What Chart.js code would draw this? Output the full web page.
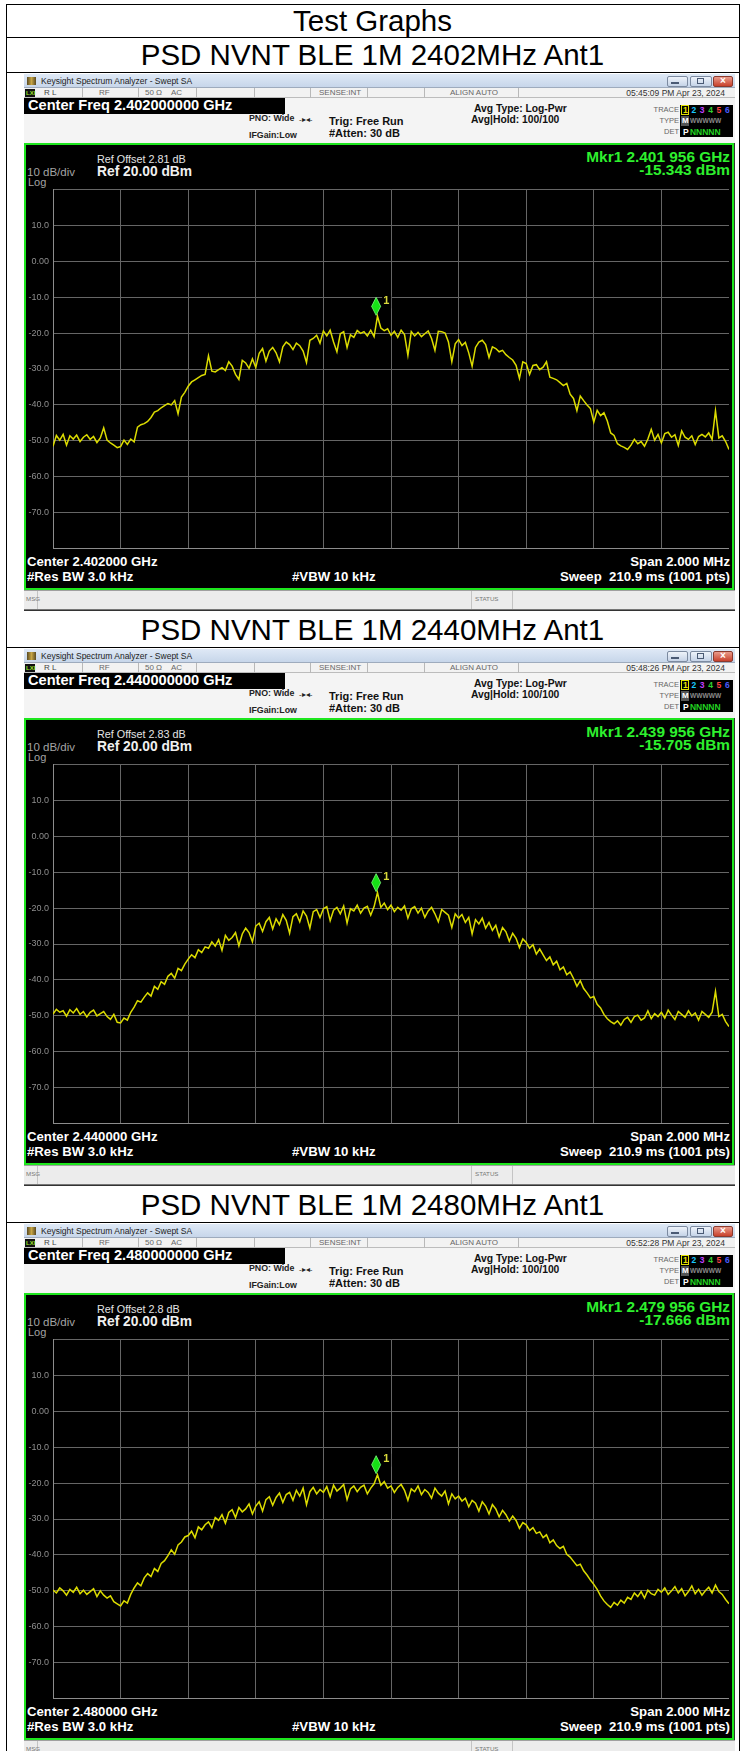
<!DOCTYPE html>
<html>
<head>
<meta charset="utf-8">
<script src="https://cdn.jsdelivr.net/npm/chart.js@4.4.1/dist/chart.umd.min.js"></script>
<style>
  body { margin: 0; width: 743px; height: 1751px; overflow: hidden; position: relative; background: #fff;
         font-family: "Liberation Sans", Arial, sans-serif; }
  canvas { position: absolute; }
</style>
</head>
<body>
<script>
// ---- data ----
const pageTitle = "Test Graphs";
const panelTitles = ["PSD NVNT BLE 1M 2402MHz Ant1", "PSD NVNT BLE 1M 2440MHz Ant1", "PSD NVNT BLE 1M 2480MHz Ant1"];
const centerFreqLabels = ["2.402000000 GHz", "2.440000000 GHz", "2.480000000 GHz"];
const centerLabels = ["2.402000 GHz", "2.440000 GHz", "2.480000 GHz"];
const timeStamps = ["05:45:09 PM Apr 23, 2024", "05:48:26 PM Apr 23, 2024", "05:52:28 PM Apr 23, 2024"];
const refOffsets = ["2.81 dB", "2.83 dB", "2.8 dB"];
const markerFreqLabels = ["2.401 956 GHz", "2.439 956 GHz", "2.479 956 GHz"];
const markerLevels = [-15.343, -15.705, -17.666];
const markerOffsetsKHz = [-44, -44, -44];

// x: offset from centre in kHz, 201 points over the 2 MHz span (every 10 kHz)
const spanStartKHz = -1000;
const pointStepKHz = 10;
const yTickValues = [10, 0, -10, -20, -30, -40, -50, -60, -70];
const yTickLabels = ["10.0", "0.00", "-10.0", "-20.0", "-30.0", "-40.0", "-50.0", "-60.0", "-70.0"];

const trace2402 = [
  -51.5, -48.5, -49.8, -48.2, -51.2, -48.6, -49.5, -48.4, -50.2, -49.0, -48.3, -49.6, -48.8, -50.5, -49.2, -46.4, -49.8, -50.6, -51.2, -51.9,
  -51.6, -49.8, -51.0, -49.5, -50.3, -46.2, -45.5, -45.2, -44.6, -43.5, -42.0, -41.6, -40.8, -40.2, -39.6, -40.0, -38.8, -42.5, -37.8, -36.5,
  -34.8, -33.6, -33.0, -32.4, -31.8, -31.5, -26.3, -30.6, -30.8, -30.2, -29.6, -30.4, -28.0, -29.2, -31.5, -32.9, -27.6, -28.3, -29.8, -27.2,
  -29.6, -25.6, -24.3, -27.8, -25.0, -24.0, -25.5, -28.0, -23.8, -22.5, -23.2, -24.6, -22.8, -23.5, -25.0, -28.2, -22.0, -21.5, -20.6, -22.8,
  -19.4, -20.8, -19.2, -22.5, -25.2, -20.2, -19.6, -24.0, -20.5, -21.2, -19.3, -20.1, -19.6, -20.8, -19.2, -21.0, -15.3, -18.6, -19.3, -18.8,
  -20.6, -19.5, -21.2, -19.2, -20.4, -26.2, -19.6, -20.8, -19.8, -21.0, -20.2, -19.4, -21.5, -24.8, -19.5, -19.6, -20.0, -22.5, -28.0, -23.0,
  -21.8, -23.5, -22.6, -25.5, -29.2, -24.0, -22.5, -22.0, -23.2, -26.8, -23.8, -24.3, -25.2, -24.8, -26.0, -26.8, -27.5, -29.0, -32.6, -28.0,
  -28.5, -31.5, -29.0, -28.8, -30.2, -29.5, -28.0, -32.3, -32.6, -33.0, -33.8, -34.6, -34.0, -37.0, -38.2, -41.6, -37.5, -38.8, -40.0, -41.0,
  -44.8, -41.5, -43.0, -42.2, -44.5, -47.8, -48.5, -50.8, -51.4, -51.8, -52.4, -51.2, -49.6, -50.8, -50.2, -51.5, -49.5, -46.8, -49.8, -48.2,
  -50.6, -48.0, -47.6, -49.0, -48.3, -51.3, -47.2, -49.0, -49.6, -48.6, -51.0, -48.8, -48.2, -48.9, -47.8, -49.6, -41.6, -49.2, -48.6, -50.2, -52.4
];
const trace2440 = [
  -49.5, -48.2, -49.0, -48.6, -50.1, -48.3, -49.2, -48.0, -49.6, -48.8, -50.3, -49.0, -48.4, -50.0, -49.4, -48.8, -50.2, -51.0, -49.6, -51.8,
  -52.0, -50.6, -51.2, -49.0, -47.6, -45.8, -46.2, -44.8, -43.6, -44.5, -41.8, -42.6, -40.5, -41.2, -39.0, -38.2, -39.5, -36.8, -37.4, -35.6,
  -34.2, -33.0, -33.8, -31.6, -32.4, -30.8, -31.2, -29.4, -30.6, -28.8, -31.8, -27.6, -29.0, -28.2, -26.8, -30.5, -27.2, -25.6, -26.8, -29.4,
  -25.0, -24.2, -26.5, -23.8, -22.6, -25.8, -23.0, -24.6, -21.8, -23.4, -27.0, -22.4, -21.6, -23.8, -20.8, -22.2, -25.6, -21.0, -20.4, -22.6,
  -20.2, -19.6, -23.5, -20.6, -19.8, -21.6, -19.4, -24.2, -20.2, -20.8, -19.2, -21.4, -20.0, -19.5, -22.0, -19.6, -15.7, -19.8, -18.6, -20.4,
  -19.2, -21.0, -19.8, -20.6, -19.4, -22.8, -20.2, -19.6, -21.4, -20.0, -22.6, -20.8, -19.8, -21.6, -23.8, -20.4, -21.2, -22.0, -25.4, -21.6,
  -22.8, -21.8, -24.0, -22.6, -27.2, -23.2, -24.4, -22.8, -25.6, -24.0, -26.2, -24.8, -28.0, -25.4, -26.6, -29.2, -27.0, -28.4, -31.0, -28.6,
  -29.6, -31.2, -30.2, -32.8, -31.4, -33.0, -34.6, -33.6, -35.8, -34.8, -37.2, -36.4, -38.6, -37.8, -39.6, -41.8, -40.2, -42.4, -43.6, -45.0,
  -44.6, -46.8, -47.8, -49.6, -50.8, -51.6, -52.2, -51.4, -52.6, -51.0, -50.4, -51.8, -50.2, -49.8, -51.2, -50.6, -48.6, -50.8, -49.4, -50.2,
  -49.0, -50.6, -48.4, -49.8, -51.0, -48.8, -49.6, -50.4, -48.6, -50.0, -49.2, -51.2, -48.8, -49.6, -50.4, -49.0, -43.2, -50.2, -49.6, -51.6, -53.0
];
const trace2480 = [
  -49.8, -50.6, -49.2, -50.0, -51.2, -49.6, -50.4, -49.0, -50.8, -49.8, -51.0, -50.2, -49.4, -51.6, -50.0, -51.2, -52.0, -51.4, -53.0, -53.6,
  -54.2, -52.8, -53.4, -51.0, -49.2, -47.8, -48.6, -46.4, -45.2, -46.0, -43.8, -44.6, -42.4, -41.6, -40.2, -38.6, -39.8, -37.2, -36.4, -35.0,
  -34.6, -33.4, -35.2, -32.2, -33.0, -31.6, -30.8, -32.4, -29.6, -30.4, -28.8, -31.2, -28.2, -27.4, -29.6, -26.8, -28.0, -27.2, -25.8, -28.6,
  -26.4, -25.2, -27.8, -24.6, -23.8, -26.2, -24.0, -22.8, -25.4, -23.2, -22.6, -24.8, -22.0, -23.6, -21.4, -26.0, -22.4, -21.2, -23.0, -21.8,
  -22.6, -21.0, -23.8, -20.6, -22.2, -21.4, -20.4, -24.6, -21.6, -20.8, -22.4, -21.2, -20.6, -23.0, -21.4, -20.2, -17.7, -20.6, -19.6, -21.4,
  -20.8, -22.6, -21.2, -20.4, -22.0, -24.8, -21.6, -22.4, -20.8, -23.2, -21.8, -22.6, -24.2, -21.4, -22.8, -23.6, -22.2, -25.8, -23.0, -24.4,
  -23.6, -25.0, -24.2, -26.6, -24.8, -25.6, -27.8, -25.2, -26.4, -28.6, -26.0, -27.2, -29.4, -27.6, -28.8, -30.6, -29.2, -30.4, -32.6, -31.0,
  -31.6, -33.2, -32.4, -34.0, -33.6, -35.2, -34.4, -36.6, -35.8, -37.4, -38.2, -37.6, -39.8, -40.6, -41.8, -43.0, -42.6, -44.4, -45.6, -47.0,
  -48.2, -49.6, -51.4, -52.8, -53.8, -54.6, -53.2, -54.0, -52.6, -53.4, -51.8, -52.4, -50.6, -51.6, -50.2, -52.0, -49.8, -50.8, -51.2, -49.6,
  -50.4, -49.2, -51.0, -50.0, -48.8, -50.6, -49.4, -51.4, -50.2, -48.6, -50.8, -49.6, -51.2, -50.0, -49.0, -50.6, -48.4, -50.2, -51.0, -52.4, -53.6
];
const traces = [trace2402, trace2440, trace2480];

// ---- little helpers for the screenshot chrome ----
function box(x, y, w, h, css) {
  const d = document.createElement("div");
  d.style.cssText = `position:absolute;left:${x}px;top:${y}px;width:${w}px;height:${h}px;box-sizing:border-box;` + (css || "");
  document.body.appendChild(d);
  return d;
}
function text(str, x, cy, size, css, align) {
  const d = document.createElement("div");
  d.textContent = str;
  let pos = `left:${x}px;`;
  if (align === "right") pos = `right:${743 - x}px;`;
  if (align === "center") pos = `left:${x - 300}px;width:600px;text-align:center;`;
  d.style.cssText = `position:absolute;${pos}top:${cy - size}px;height:${size * 2}px;line-height:${size * 2}px;` +
    `font-size:${size}px;white-space:pre;` + (css || "");
  document.body.appendChild(d);
  return d;
}

// table lines
const tableLeft = 6, tableRight = 739;
box(tableLeft, 4, tableRight - tableLeft + 1, 1, "background:#000");
box(tableLeft, 4, 1, 1747, "background:#000");
box(tableRight, 4, 1, 1747, "background:#000");
text(pageTitle, 372.5, 20.5, 29.5, "color:#000", "center");
box(tableLeft, 37, tableRight - tableLeft + 1, 1, "background:#000");

const panelTops = [74, 649, 1224];

function markerPlugin(k) {
  return {
    id: "mkr" + k,
    afterDatasetsDraw(chart) {
      const ctx = chart.ctx;
      const px = chart.scales.x.getPixelForValue(markerOffsetsKHz[k]);
      const py = chart.scales.y.getPixelForValue(markerLevels[k]) - 1;
      ctx.save();
      ctx.fillStyle = "#000";
      ctx.fillRect(px + 6, py - 20, 9, 13);
      ctx.fillStyle = "#d8d83a";
      ctx.font = "bold 11px 'Liberation Sans'";
      ctx.textBaseline = "top";
      ctx.fillText("1", px + 7, py - 20);
      ctx.beginPath();
      ctx.moveTo(px, py - 18);
      ctx.lineTo(px + 4.5, py - 9);
      ctx.lineTo(px, py);
      ctx.lineTo(px - 4.5, py - 9);
      ctx.closePath();
      ctx.fillStyle = "#16e016";
      ctx.fill();
      ctx.strokeStyle = "#7dff7d";
      ctx.lineWidth = 0.8;
      ctx.stroke();
      ctx.restore();
    }
  };
}

function drawPanel(k) {
  const y0 = panelTops[k];
  // title row above screenshot
  text(panelTitles[k], 372.5, y0 - 20, 29.5, "color:#000", "center");
  box(tableLeft, y0 - 2, tableRight - tableLeft + 1, 1, "background:#000");

  // window
  box(24, y0, 711, 537, "background:#000;border:1px solid #333");
  box(24, y0, 711, 14, "background:linear-gradient(#dfe9f6,#c7d6ea);border-bottom:1px solid #9eabbd");
  box(27, y0 + 3, 9, 8, "background:linear-gradient(90deg,#5a4a22,#c6a545,#5a4a22)");
  text("Keysight Spectrum Analyzer - Swept SA", 41, y0 + 7, 8.5, "color:#222");
  box(667, y0 + 2, 21, 11, "background:linear-gradient(#eef3fa,#c5d3e7);border:1px solid #7c8aa0;border-radius:2px");
  box(671, y0 + 8, 8, 2, "background:#4a5a74");
  box(690, y0 + 2, 22, 11, "background:linear-gradient(#eef3fa,#c5d3e7);border:1px solid #7c8aa0;border-radius:2px");
  box(697, y0 + 4, 7, 6, "border:1px solid #4a5a74");
  box(713, y0 + 2, 20, 11, "background:linear-gradient(#e99a8a,#c8412c);border:1px solid #8a3a2e;border-radius:2px");
  text("×", 723, y0 + 7, 10, "color:#fff;font-weight:bold", "center");

  // status row
  box(24, y0 + 14, 711, 10, "background:#f2f2f2;border-bottom:1px solid #bcbcbc");
  [82, 138, 196, 254, 310, 367, 424, 518].forEach(x => box(x, y0 + 14, 1, 10, "background:#b8b8b8"));
  box(25, y0 + 15, 10, 8, "background:#111");
  text("LXI", 26, y0 + 19, 6, "color:#9be12a;font-weight:bold");
  text("R L", 44, y0 + 19, 8, "color:#444");
  text("RF", 99, y0 + 19, 8, "color:#666");
  text("50 Ω    AC", 145, y0 + 19, 8, "color:#666");
  text("SENSE:INT", 319, y0 + 19, 8, "color:#666");
  text("ALIGN AUTO", 450, y0 + 19, 8, "color:#666");
  text(timeStamps[k], 725, y0 + 19, 8.5, "color:#333", "right");

  // settings area
  box(24, y0 + 24, 711, 45, "background:#f4f4f4");
  box(24, y0 + 24, 261, 16, "background:#000");
  text("Center Freq " + centerFreqLabels[k], 28, y0 + 31.5, 14.6, "color:#fff;font-weight:bold");
  text("PNO: Wide", 249, y0 + 44.5, 8.8, "color:#222;font-weight:bold");
  text("IFGain:Low", 249, y0 + 61.5, 8.8, "color:#222;font-weight:bold");
  text("-▸◂-", 299, y0 + 46, 8, "color:#222");
  text("Trig: Free Run", 329, y0 + 46.7, 11, "color:#111;font-weight:bold");
  text("#Atten: 30 dB", 329, y0 + 58.7, 11, "color:#111;font-weight:bold");
  text("Avg Type: Log-Pwr", 474, y0 + 35.3, 10.3, "color:#111;font-weight:bold");
  text("Avg|Hold: 100/100", 471, y0 + 46.7, 10.3, "color:#111;font-weight:bold");
  text("TRACE", 679, y0 + 35, 7.5, "color:#666", "right");
  text("TYPE", 679, y0 + 46.5, 7.5, "color:#666", "right");
  text("DET", 679, y0 + 57.5, 7.5, "color:#666", "right");
  box(680, y0 + 31, 53, 32, "background:#000");
  box(681, y0 + 31, 8, 10, "border:1px solid #e0e000");
  const digitColors = ["#e6e600", "#18c8ff", "#c040ff", "#30d030", "#ff4040", "#4a5cff"];
  digitColors.forEach((c, i) => text(String(i + 1), 683 + i * 8.4, y0 + 36, 8.5, `color:${c};font-weight:bold`));
  box(681, y0 + 42, 8, 10, "background:#555");
  text("M", 682, y0 + 47, 8, "color:#fff;font-weight:bold");
  text("WWWWW", 690, y0 + 47, 6.6, "color:#8a8a8a;font-weight:bold");
  text("P", 683, y0 + 58, 8.5, "color:#fff;font-weight:bold");
  text("N N N N N", 690, y0 + 58, 8.5, "color:#22d322;font-weight:bold;letter-spacing:-1.2px");

  // plot area
  box(24, y0 + 69, 710, 447, "background:#000;border:2px solid #1ee61e");
  text("Mkr1 " + markerFreqLabels[k], 730, y0 + 83, 15.4, "color:#2ef02e;font-weight:bold", "right");
  text(markerLevels[k].toFixed(3) + " dBm", 730, y0 + 96, 15.4, "color:#2ef02e;font-weight:bold", "right");
  text("Ref Offset " + refOffsets[k], 97, y0 + 85.3, 10.8, "color:#e4e4e4");
  text("Ref 20.00 dBm", 97, y0 + 97.7, 13.8, "color:#f0f0f0;font-weight:bold");
  text("10 dB/div", 27, y0 + 98, 11.5, "color:#a4a4a4");
  text("Log", 28, y0 + 107.5, 11, "color:#a4a4a4");
  text("Center " + centerLabels[k], 27, y0 + 488, 13.2, "color:#fff;font-weight:bold");
  text("#Res BW 3.0 kHz", 27, y0 + 503, 13.2, "color:#fff;font-weight:bold");
  text("#VBW 10 kHz", 292, y0 + 503, 13.2, "color:#fff;font-weight:bold");
  text("Span 2.000 MHz", 730, y0 + 488, 13.2, "color:#fff;font-weight:bold", "right");
  text("Sweep  210.9 ms (1001 pts)", 730, y0 + 503, 13.2, "color:#fff;font-weight:bold", "right");

  // message bar
  box(24, y0 + 516, 711, 20, "background:#ececec;border-top:1px solid #a0a0a0;border-bottom:1px solid #777");
  box(37, y0 + 517, 1, 18, "background:#c4c4c4");
  box(471, y0 + 517, 1, 18, "background:#c4c4c4");
  box(512, y0 + 517, 1, 18, "background:#c4c4c4");
  text("MSG", 26, y0 + 525, 6.2, "color:#777");
  text("STATUS", 475, y0 + 525, 6.2, "color:#777");

  // the trace itself
  const cv = document.createElement("canvas");
  cv.width = 702; cv.height = 378;
  cv.style.left = "27px"; cv.style.top = (y0 + 106) + "px";
  document.body.appendChild(cv);
  new Chart(cv, {
    type: "line",
    data: {
      datasets: [{
        data: traces[k].map((v, i) => ({ x: spanStartKHz + i * pointStepKHz, y: v })),
        borderColor: "#dcdc00",
        borderWidth: 1.5,
        pointRadius: 0,
        tension: 0
      }]
    },
    options: {
      responsive: false,
      animation: false,
      devicePixelRatio: 1,
      layout: { padding: { top: 5, bottom: 5, left: 0, right: 0 } },
      plugins: { legend: { display: false }, tooltip: { enabled: false } },
      scales: {
        x: {
          type: "linear", min: -1000, max: 1000,
          ticks: { display: false, stepSize: 200 },
          grid: { color: "#666", drawTicks: false },
          border: { color: "#8c8c8c" },
          afterFit: s => { s.height = 0; }
        },
        y: {
          min: -80, max: 20,
          ticks: {
            stepSize: 10, autoSkip: false, padding: 4, color: "#8e8e8e",
            font: { family: "Liberation Sans", size: 9 },
            callback: v => {
              const i = yTickValues.indexOf(v);
              return i >= 0 ? yTickLabels[i] : "";
            }
          },
          grid: { color: "#666", drawTicks: false },
          border: { color: "#8c8c8c" },
          afterFit: s => { s.width = 26; }
        }
      }
    },
    plugins: [markerPlugin(k)]
  });
}

[0, 1, 2].forEach(drawPanel);
</script>
</body>
</html>
